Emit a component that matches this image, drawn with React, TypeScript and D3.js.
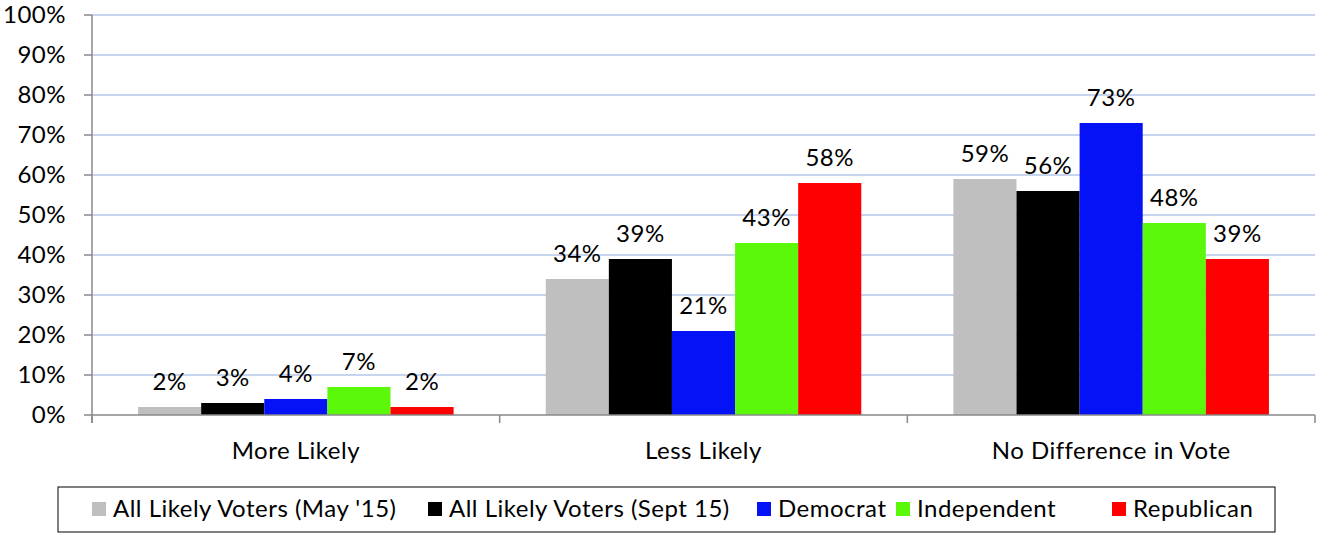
import React from "react";
import * as d3 from "d3";

const categories = ["More Likely", "Less Likely", "No Difference in Vote"];
const seriesNames = [
  "All Likely Voters (May '15)",
  "All Likely Voters (Sept 15)",
  "Democrat",
  "Independent",
  "Republican",
];
const seriesColors = ["#bfbfbf", "#000000", "#0512f5", "#5cf80a", "#ff0000"];
const values = [
  [2, 34, 59],
  [3, 39, 56],
  [4, 21, 73],
  [7, 43, 48],
  [2, 58, 39],
];
const yTicks = [0, 10, 20, 30, 40, 50, 60, 70, 80, 90, 100];
const legendX = [92, 428, 757, 896, 1112];

const W = 1317;
const H = 533;
const left = 92;
const right = 1315;
const top = 15;
const bottom = 415;
const font = "Lato, 'Open Sans', sans-serif";
const fs = 24;
const ls = 0.5;

export default function App() {
  const x0 = d3.scaleBand<string>().domain(categories).range([left, right]);
  const bw = x0.bandwidth();
  const gap = bw * 0.113;
  const x1 = d3
    .scaleBand<number>()
    .domain(d3.range(seriesNames.length))
    .range([gap, bw - gap]);
  const y = d3.scaleLinear().domain([0, 100]).range([bottom, top]);

  return (
    <svg
      width={W}
      height={H}
      style={{ position: "absolute", left: 0, top: 0, background: "#fff" }}
      fontFamily={font}
      letterSpacing={ls}
    >
      {yTicks.map((t) => (
        <g key={t}>
          {t > 0 && (
            <line x1={left} x2={right} y1={y(t)} y2={y(t)} stroke="#b4c6e7" strokeWidth={1.5} />
          )}
          <line x1={left - 8} x2={left} y1={y(t)} y2={y(t)} stroke="#898989" strokeWidth={1.5} />
          <text x={66} y={y(t)} dy="0.35em" textAnchor="end" fontSize={fs} fill="#000">
            {t}%
          </text>
        </g>
      ))}
      {categories.map((c, ci) => (
        <g key={c} transform={`translate(${x0(c)},0)`}>
          {values.map((vals, si) => (
            <g key={si}>
              <rect
                x={x1(si)}
                width={x1.bandwidth()}
                y={y(vals[ci])}
                height={y(0) - y(vals[ci])}
                fill={seriesColors[si]}
              />
              <text
                x={(x1(si) ?? 0) + x1.bandwidth() / 2}
                y={y(vals[ci]) - 17}
                textAnchor="middle"
                fontSize={fs}
              >
                {vals[ci]}%
              </text>
            </g>
          ))}
          <text x={bw / 2} y={451} dy="0.35em" textAnchor="middle" fontSize={fs}>
            {c}
          </text>
        </g>
      ))}
      <line x1={left} x2={left} y1={top} y2={bottom + 8} stroke="#898989" strokeWidth={1.5} />
      <line x1={left} x2={right} y1={bottom} y2={bottom} stroke="#898989" strokeWidth={1.5} />
      {[...categories.map((c) => x0(c) ?? 0), right].map((t, i) => (
        <line key={i} x1={t} x2={t} y1={bottom} y2={bottom + 8} stroke="#898989" strokeWidth={1.5} />
      ))}
      <rect x={58} y={487} width={1217} height={45} fill="#fff" stroke="#000" strokeWidth={1} />
      {seriesNames.map((s, i) => (
        <g key={s}>
          <rect x={legendX[i]} y={502} width={14} height={14} fill={seriesColors[i]} />
          <text x={legendX[i] + 21} y={509} dy="0.35em" fontSize={fs}>
            {s}
          </text>
        </g>
      ))}
    </svg>
  );
}
